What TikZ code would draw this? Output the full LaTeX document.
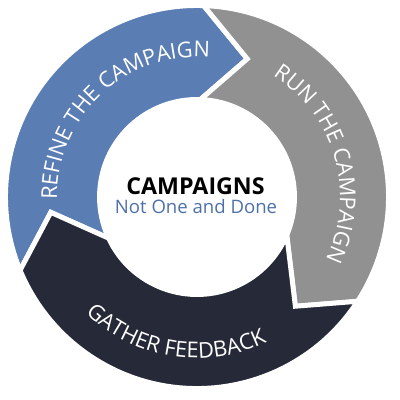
\documentclass[tikz,border=0pt]{standalone}
\usepackage{fontspec}
\setmainfont{Open Sans}
\usepackage{tikz}
\usetikzlibrary{decorations.text}
\definecolor{refine}{HTML}{5A7DB4}
\definecolor{run}{HTML}{919191}
\definecolor{gather}{HTML}{262938}
\definecolor{doneblue}{HTML}{4E70AA}
\newcommand\ringfont{\fontsize{15.5}{18}\selectfont}
\tikzset{
  stage/.style={draw=white,line width=3.5pt,line join=miter},
  ringtext/.style={decorate,decoration={text along path,text align=center,text color=white}},
  title/.style={font=\fontsize{16.5}{19}\selectfont\bfseries,text=black,anchor=base,inner sep=0pt},
  subtitle/.style={font=\fontsize{13.2}{15}\selectfont,text=doneblue,anchor=base,inner sep=0pt},
}
\begin{document}
\begin{tikzpicture}[x=0.025cm,y=0.025cm]
  \useasboundingbox (0,0) rectangle (400,400);
  \begin{scope}[shift={(197,203)}]
  % three stages: colour / tail outer / tail inner / notch / head outer / head inner / tip
  \foreach \col/\tailo/\taili/\notch/\heado/\headi/\tipa in {refine/202.5/205/186/88/88/70,run/88/88/70/-33/-23/-48,gather/-33/-23/-48/-157.5/-155/-174}{
    \filldraw[stage,fill=\col] (\tailo:191.5) arc[start angle=\tailo,end angle=\heado,radius=191.5]
      -- (\tipa:147) -- (\headi:97.5) arc[start angle=\headi,end angle=\taili,radius=97.5]
      -- (\notch:147) -- cycle;
  }
  \path[ringtext,decoration={text={|\ringfont|REFINE THE CAMPAIGN}}] (198:140) arc[start angle=198,end angle=68,radius=140];
  \path[ringtext,decoration={text={|\ringfont|RUN THE CAMPAIGN}}] (76:143) arc[start angle=76,end angle=-44,radius=143];
  \path[ringtext,decoration={text={|\ringfont|GATHER FEEDBACK}}] (201:161) arc[start angle=201,end angle=321,radius=161];
  \node[title] (campaigns) at (-1.5,2) {CAMPAIGNS};
  \node[subtitle] (notone) at (-1,-17) {Not One and Done};
  \end{scope}
\end{tikzpicture}
\end{document}
